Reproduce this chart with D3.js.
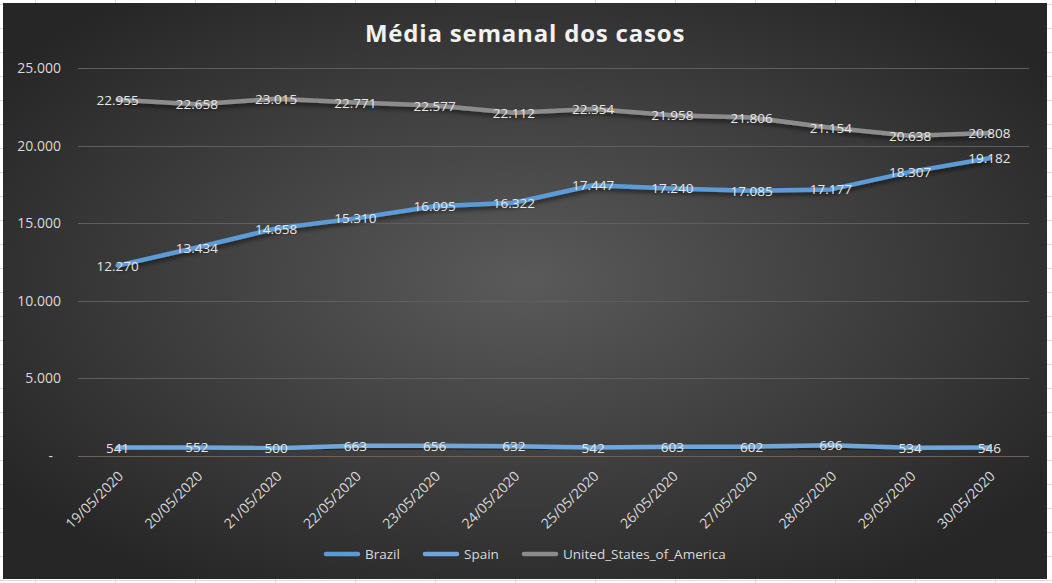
<!DOCTYPE html>
<html><head><meta charset="utf-8">
<script src="https://cdn.jsdelivr.net/npm/d3@7"></script>
<style>html,body{margin:0;padding:0;background:#fff;overflow:hidden}</style>
</head><body>
<svg id="c" width="1052" height="583"></svg>
<script>
const categories = ["19/05/2020","20/05/2020","21/05/2020","22/05/2020","23/05/2020","24/05/2020","25/05/2020","26/05/2020","27/05/2020","28/05/2020","29/05/2020","30/05/2020"];
const brazil = [12270,13434,14658,15310,16095,16322,17447,17240,17085,17177,18307,19182];
const spain = [541,552,500,663,656,632,542,603,602,696,534,546];
const usa = [22955,22658,23015,22771,22577,22112,22354,21958,21806,21154,20638,20808];
const seriesNames = ["Brazil","Spain","United_States_of_America"];
const yTicks = [0,5000,10000,15000,20000,25000];
const title = "Média semanal dos casos";

const series = [
  {name: seriesNames[0], values: brazil, color: "#5b9bd5"},
  {name: seriesNames[1], values: spain, color: "#6fa6da"},
  {name: seriesNames[2], values: usa, color: "#8c8c8c"}
];

const svg = d3.select("#c");
const W = 1052, H = 583;
const fontF = "'Open Sans', 'Noto Sans', sans-serif";

// spreadsheet grid behind
const bg = svg.append("g");
d3.range(4, H, 24).forEach(y => bg.append("line").attr("x1",0).attr("x2",W).attr("y1",y+0.5).attr("y2",y+0.5).attr("stroke","#dadada"));
d3.range(35, W, 80).forEach(x => bg.append("line").attr("y1",0).attr("y2",H).attr("x1",x+0.5).attr("x2",x+0.5).attr("stroke","#dadada"));

const defs = svg.append("defs");
const rg = defs.append("radialGradient").attr("id","bgGrad")
  .attr("cx","50%").attr("cy","48%").attr("r","62%");
rg.append("stop").attr("offset","0%").attr("stop-color","#5a5a5a");
rg.append("stop").attr("offset","100%").attr("stop-color","#262626");
const f = defs.append("filter").attr("id","sh").attr("x","-10%").attr("y","-50%").attr("width","120%").attr("height","200%");
f.append("feDropShadow").attr("dx",1).attr("dy",3).attr("stdDeviation",2).attr("flood-color","#000").attr("flood-opacity",0.5);

const chartX = 3, chartY = 3, chartW = 1044, chartH = 576;
svg.append("rect").attr("x",chartX).attr("y",chartY).attr("width",chartW).attr("height",chartH).attr("fill","url(#bgGrad)");

const m = {left: 78, right: 1029, top: 68, bottom: 456};
const x = d3.scalePoint().domain(categories).range([m.left, m.right]).padding(0.5);
const y = d3.scaleLinear().domain([0,25000]).range([m.bottom, m.top]);

// title
svg.append("text").attr("x",525).attr("y",42).attr("text-anchor","middle")
  .attr("font-family",fontF).attr("font-weight","bold").attr("font-size",24)
  .attr("letter-spacing","0.8").attr("fill","#f2f2f2").text(title);

// gridlines
const fmt = v => v === 0 ? "-" : d3.format(",")(v).replace(/,/g,".");
svg.append("g").selectAll("line").data(yTicks.filter(d=>d>0)).join("line")
  .attr("x1",m.left).attr("x2",m.right)
  .attr("y1",d=>Math.round(y(d))+0.5).attr("y2",d=>Math.round(y(d))+0.5)
  .attr("stroke","#5e5e5e").attr("stroke-width",1);
svg.append("line").attr("x1",m.left).attr("x2",m.right)
  .attr("y1",Math.round(y(0))+0.5).attr("y2",Math.round(y(0))+0.5)
  .attr("stroke","#6a625c").attr("stroke-width",1);

// y axis
const yAxis = d3.axisLeft(y).tickValues(yTicks).tickSize(0).tickPadding(0).tickFormat(fmt);
const ya = svg.append("g").attr("transform",`translate(61,0)`).call(yAxis);
ya.select(".domain").remove();
ya.selectAll("text").attr("font-family",fontF).attr("font-size",14).attr("fill","#d9d9d9")
  .attr("text-anchor","end").attr("dx",0);
ya.selectAll(".tick").filter(d=>d===0).select("text").attr("dx",-8);

// x axis
const xAxis = d3.axisBottom(x).tickSize(0).tickPadding(0);
const xa = svg.append("g").attr("transform",`translate(0,${m.bottom})`).call(xAxis);
xa.select(".domain").remove();
xa.selectAll("text").attr("font-family",fontF).attr("font-size",14).attr("fill","#d9d9d9")
  .attr("text-anchor","end").attr("dy",0)
  .attr("transform","translate(6,21) rotate(-45)");

// lines
const line = d3.line().x((d,i)=>x(categories[i])).y(d=>y(d));
const lg = svg.append("g");
series.forEach(s => {
  lg.append("path").attr("d", line(s.values)).attr("fill","none")
    .attr("stroke", s.color).attr("stroke-width",4.5).attr("stroke-linecap","round")
    .attr("stroke-linejoin","round").attr("filter","url(#sh)");
});
// labels
series.forEach(s => {
  svg.append("g").selectAll("text").data(s.values).join("text")
    .attr("x",(d,i)=>x(categories[i])).attr("y",d=>y(d)+5)
    .attr("text-anchor","middle").attr("font-family",fontF).attr("font-size",13.5)
    .attr("fill","#e6e6e6").text(fmt);
});

// legend
const legY = 554;
const legX = [324, 423, 522];
const leg = svg.append("g");
series.forEach((s,i) => {
  leg.append("line").attr("x1",legX[i]+2).attr("x2",legX[i]+34).attr("y1",legY).attr("y2",legY)
    .attr("stroke",s.color).attr("stroke-width",4.5).attr("stroke-linecap","round");
  leg.append("text").attr("x",legX[i]+41).attr("y",legY+4.5).attr("font-family",fontF)
    .attr("font-size",13.5).attr("fill","#d9d9d9").text(s.name);
});
</script>
</body></html>
